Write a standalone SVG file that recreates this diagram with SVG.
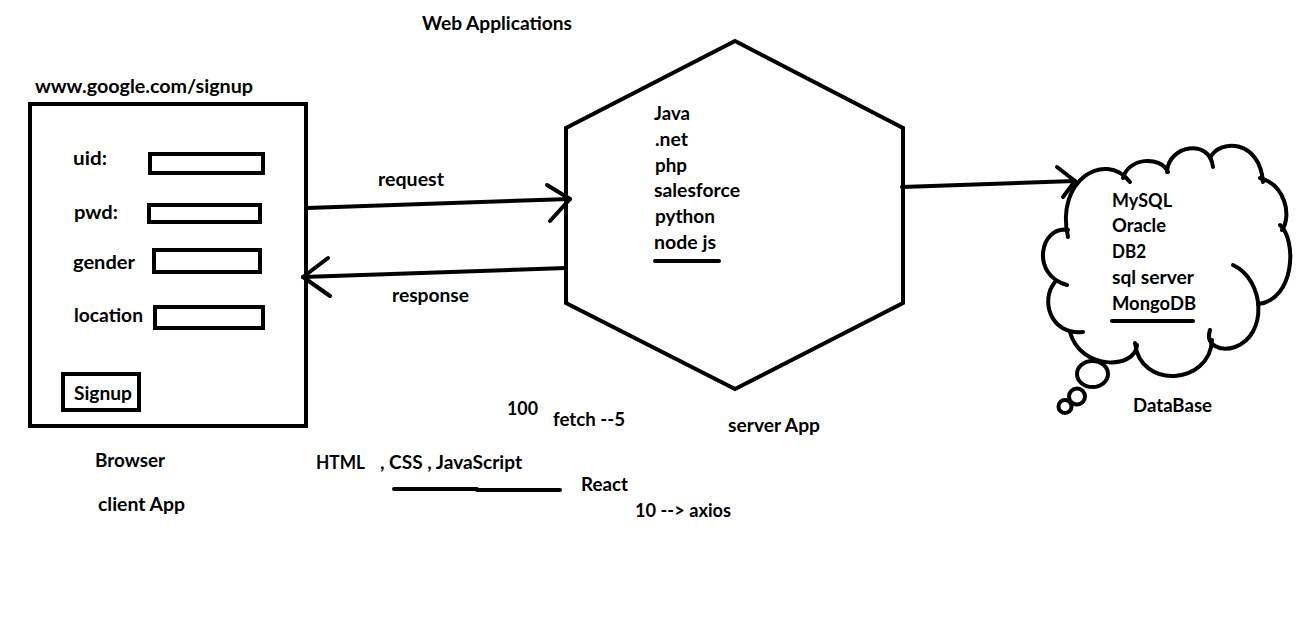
<svg xmlns="http://www.w3.org/2000/svg" width="1316" height="620" viewBox="0 0 1316 620">
<style>
text{font-family:Lato,"Open Sans","Liberation Sans",sans-serif;font-weight:bold;font-size:18px;fill:#000}
.s{fill:none;stroke:#000;stroke-width:4}
.r{fill:none;stroke:#000;stroke-width:4;stroke-linecap:round;stroke-linejoin:round}
</style>
<rect width="1316" height="620" fill="#fff"/>
<text x="422" y="30" textLength="150" lengthAdjust="spacingAndGlyphs">Web Applications</text>
<g id="browser">
<text x="35" y="93" textLength="218" lengthAdjust="spacingAndGlyphs">www.google.com/signup</text>
<rect class="s" x="30" y="104" width="276" height="322"/>
<text x="73" y="165" textLength="34" lengthAdjust="spacingAndGlyphs">uid:</text>
<rect class="s" x="150" y="154" width="113" height="19"/>
<text x="74" y="219" textLength="44" lengthAdjust="spacingAndGlyphs">pwd:</text>
<rect class="s" x="149" y="205" width="111" height="17"/>
<text x="73" y="269" textLength="62" lengthAdjust="spacingAndGlyphs">gender</text>
<rect class="s" x="154" y="250" width="106" height="22"/>
<text x="74" y="322" textLength="69" lengthAdjust="spacingAndGlyphs">location</text>
<rect class="s" x="155" y="307" width="108" height="21"/>
<rect class="s" x="63" y="374" width="76" height="36"/>
<text x="74" y="400" textLength="58" lengthAdjust="spacingAndGlyphs">Signup</text>
<text x="95" y="467" textLength="70" lengthAdjust="spacingAndGlyphs">Browser</text>
<text x="98" y="511" textLength="87" lengthAdjust="spacingAndGlyphs">client App</text>
</g>
<g id="server">
<polygon class="s" points="735,41 903,128 903,303 735,389 566,303 566,128"/>
<text x="654" y="120" textLength="36" lengthAdjust="spacingAndGlyphs">Java</text>
<text x="655" y="146" textLength="33" lengthAdjust="spacingAndGlyphs">.net</text>
<text x="655" y="172" textLength="32" lengthAdjust="spacingAndGlyphs">php</text>
<text x="654" y="197" textLength="86" lengthAdjust="spacingAndGlyphs">salesforce</text>
<text x="655" y="223" textLength="60" lengthAdjust="spacingAndGlyphs">python</text>
<text x="654" y="249" textLength="62" lengthAdjust="spacingAndGlyphs">node js</text>
<line class="r" x1="655" y1="261" x2="719" y2="261"/>
<text x="728" y="432" textLength="92" lengthAdjust="spacingAndGlyphs">server App</text>
</g>
<g id="database">
<path class="r" d="M1068,237 C1055,180 1105,150 1130,182"/>
<path class="r" d="M1123,178 C1128,158 1160,155 1168,172"/>
<path class="r" d="M1167,172 C1168,145 1210,138 1213,167"/>
<path class="r" d="M1210,158 C1220,138 1260,140 1263,182"/>
<path class="r" d="M1260,178 C1285,185 1292,215 1282,230"/>
<path class="r" d="M1280,225 C1297,240 1295,300 1258,304"/>
<path class="r" d="M1233,265 C1265,280 1268,335 1235,347 C1220,352 1205,345 1210,330"/>
<path class="r" d="M1212,340 C1210,385 1140,390 1135,343"/>
<path class="r" d="M1137,345 C1135,370 1080,370 1070,332"/>
<path class="r" d="M1055,282 C1040,300 1050,335 1083,332"/>
<path class="r" d="M1068,230 C1040,225 1030,275 1067,285"/>
<ellipse class="s" cx="1092.5" cy="374" rx="15.5" ry="13"/>
<circle class="s" cx="1077" cy="396.5" r="8"/>
<circle class="s" cx="1065" cy="406.5" r="6.5"/>
<text x="1112" y="207" textLength="60" lengthAdjust="spacingAndGlyphs">MySQL</text>
<text x="1112" y="232" textLength="54" lengthAdjust="spacingAndGlyphs">Oracle</text>
<text x="1112" y="258" textLength="34" lengthAdjust="spacingAndGlyphs">DB2</text>
<text x="1112" y="284" textLength="82" lengthAdjust="spacingAndGlyphs">sql server</text>
<text x="1112" y="310" textLength="84" lengthAdjust="spacingAndGlyphs">MongoDB</text>
<line class="r" x1="1112" y1="321" x2="1193" y2="321"/>
<text x="1133" y="412" textLength="79" lengthAdjust="spacingAndGlyphs">DataBase</text>
</g>
<g id="connectors">
<line class="r" x1="307" y1="208" x2="570" y2="199"/>
<polyline class="r" points="547,185 570,199 550,221"/>
<text x="378" y="186" textLength="66" lengthAdjust="spacingAndGlyphs">request</text>
<line class="r" x1="566" y1="268" x2="303" y2="277"/>
<polyline class="r" points="328,258 303,277 330,296"/>
<text x="392" y="302" textLength="77" lengthAdjust="spacingAndGlyphs">response</text>
<line class="r" x1="902" y1="187" x2="1075" y2="181"/>
<polyline class="r" points="1057,167 1075,181 1063,197"/>
</g>
<g id="notes">
<text x="507" y="415" textLength="31" lengthAdjust="spacingAndGlyphs">100</text>
<text x="553" y="426" textLength="72" lengthAdjust="spacingAndGlyphs">fetch --5</text>
<text x="316" y="469" textLength="49" lengthAdjust="spacingAndGlyphs">HTML</text>
<text x="380" y="469" textLength="142" lengthAdjust="spacingAndGlyphs">, CSS , JavaScript</text>
<polyline class="r" points="394,489 477,489 477,490 560,490"/>
<text x="581" y="491" textLength="47" lengthAdjust="spacingAndGlyphs">React</text>
<text x="635" y="517" textLength="96" lengthAdjust="spacingAndGlyphs">10 --&gt; axios</text>
</g>
</svg>
